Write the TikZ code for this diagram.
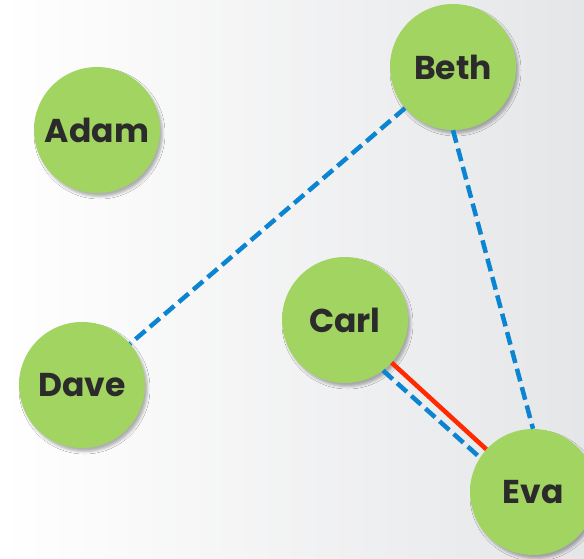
\documentclass[tikz,border=0pt]{standalone}
\usepackage{fontspec}
\setmainfont{Poppins}
\usetikzlibrary{shadows.blur}
\definecolor{nodegreen}{HTML}{A2D462}
\definecolor{linkblue}{HTML}{0B84D2}
\definecolor{linkred}{HTML}{FF2A00}
\definecolor{txtgray}{HTML}{2B2B2B}
\definecolor{bgright}{HTML}{E5E6E8}
\tikzset{
  person/.style={circle, fill=nodegreen, minimum size=126pt, inner sep=0pt,
    font=\fontsize{33}{33}\selectfont\bfseries, text=txtgray,
    blur shadow={shadow xshift=2.5pt, shadow yshift=-3.5pt, shadow blur radius=2.5pt, shadow opacity=30}},
  bluelink/.style={draw=linkblue, line width=4.5pt, dash pattern=on 13pt off 6pt},
  redlink/.style={draw=linkred, line width=4.5pt}
}
\begin{document}
\begin{tikzpicture}[x=1pt,y=-1pt]
\clip (0,0) rectangle (584,559);
\useasboundingbox (0,0) rectangle (584,559);
\shade[left color=white, right color=bgright] (0,0) rectangle (584,559);
\node[person] (adam) at (97,130) {Adam};
\node[person] (beth) at (453,67) {Beth};
\node[person] (carl) at (345,320) {Carl};
\node[person] (dave) at (82,385) {Dave};
\node[person] (eva) at (533,492) {Eva};
\draw[bluelink] (beth) -- (dave);
\draw[bluelink] (beth.south) -- (eva.north);
\draw[redlink] (carl) -- (eva);
\draw[bluelink] (carl.-53) -- (eva.147);
\end{tikzpicture}
\end{document}
